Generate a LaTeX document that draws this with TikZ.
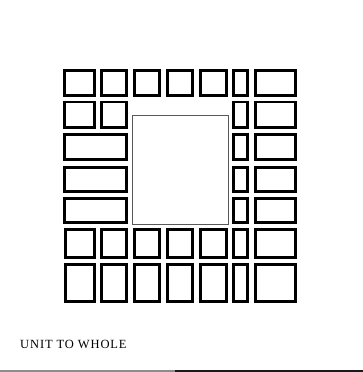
\documentclass[tikz,border=0pt]{standalone}
\usepackage{fontspec}
\setmainfont{Liberation Serif}
\newfontfamily\labelfont[LetterSpace=7]{Liberation Serif}
\usepackage{tikz}
\usepackage{xcolor}

\tikzset{
    tile/.style={draw=black, line width=2.7pt},
    hole/.style={draw=black!65, line width=0.8pt},
    caption/.style={anchor=base west, inner sep=0pt, font=\labelfont\fontsize{12.5}{14}\selectfont}
}

\begin{document}
\begin{tikzpicture}[x=1pt, y=-1pt]
    % Page frame
    \useasboundingbox (0,0) rectangle (363,372);

    % Top row, all seven columns
    \foreach \xa/\xb in {63/96, 100/128, 133/161, 166/194, 199/228, 232/249, 254/297}
        \draw[tile] (\xa+1.4, 70.7) rectangle (\xb-1.4, 95.3);

    % Second row, beside the opening
    \foreach \xa/\xb in {63/96, 100/128, 232/249, 254/297}
        \draw[tile] (\xa+1.4, 102.1) rectangle (\xb-1.4, 127.6);

    % Rows three to five: wide tiles on the left
    \foreach \ya/\yb in {133/161, 166/193, 197/224} {
        \draw[tile] (64.4, \ya+1.4) rectangle (126.6, \yb-1.4);
        \draw[tile] (233.4, \ya+1.4) rectangle (247.6, \yb-1.4);
        \draw[tile] (255.4, \ya+1.4) rectangle (295.6, \yb-1.4);
    }

    % Bottom two rows, all seven columns
    \foreach \ya/\yb in {228/259, 263/303}
        \foreach \xa/\xb in {64/96, 100/128, 133/161, 166/194, 199/228, 232/249, 254/297}
            \draw[tile] (\xa+1.4, \ya+1.4) rectangle (\xb-1.4, \yb-1.4);

    % The whole: thin central opening
    \draw[hole] (132.7, 115.4) rectangle (228.6, 224.6);

    % Caption
    \node[caption] (title) at (20, 348.3) {UNIT TO WHOLE};

    % Bottom edge line
    \draw[line width=1.5pt, black!45] (0, 371) -- (175, 371);
    \draw[line width=1.5pt, black!90] (175, 371) -- (363, 371);
\end{tikzpicture}
\end{document}
